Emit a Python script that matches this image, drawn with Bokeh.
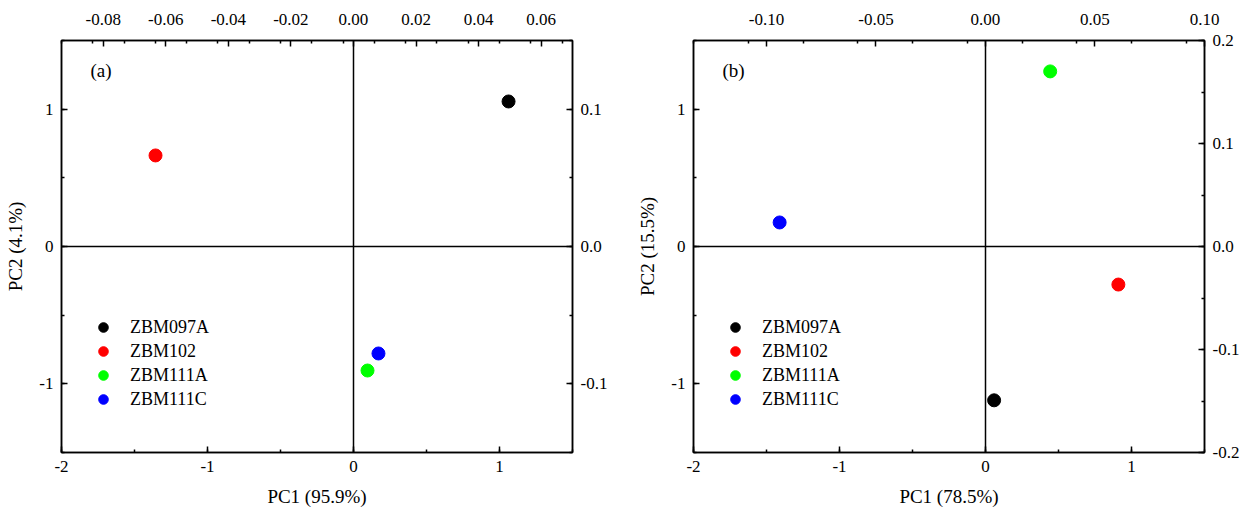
from bokeh.plotting import figure
from bokeh.layouts import row
from bokeh.models import (Range1d, LinearAxis, FixedTicker, PrintfTickFormatter,
                          Span, Label, Legend, LegendItem, ColumnDataSource)
from bokeh.embed import file_html
from bokeh.resources import INLINE

samples = ["ZBM097A", "ZBM102", "ZBM111A", "ZBM111C"]
colors = ["#000000", "#ff0000", "#00ff00", "#0000ff"]

# Panel (a)
a_pc1 = [1.062, -1.356, 0.096, 0.171]
a_pc2 = [1.056, 0.663, -0.903, -0.779]
# Panel (b)
b_pc1 = [0.059, 0.91, 0.443, -1.41]
b_pc2 = [-1.12, -0.277, 1.275, 0.175]

bottom_ticks = [-2, -1, 0, 1]
left_ticks = [-1, 0, 1]
a_top_ticks = [-0.08, -0.06, -0.04, -0.02, 0.0, 0.02, 0.04, 0.06]
a_right_ticks = [-0.1, 0.0, 0.1]
b_top_ticks = [-0.10, -0.05, 0.0, 0.05, 0.10]
b_right_ticks = [-0.2, -0.1, 0.0, 0.1, 0.2]

FONT = "Liberation Serif"


def minor_list(lo, hi, step):
    out = []
    v = lo
    while v <= hi + 1e-9:
        out.append(round(v, 6))
        v += step
    return out


def style_axis(ax, ticks, minors, fmt):
    ax.ticker = FixedTicker(ticks=ticks, minor_ticks=minors)
    ax.formatter = PrintfTickFormatter(format=fmt)
    ax.major_tick_in = 6
    ax.major_tick_out = 0
    ax.minor_tick_in = 3
    ax.minor_tick_out = 0
    ax.major_tick_line_color = "black"
    ax.minor_tick_line_color = "black"
    ax.major_tick_line_width = 1.5
    ax.minor_tick_line_width = 1.5
    ax.axis_line_color = "black"
    ax.axis_line_width = 1.5
    ax.major_label_text_font = FONT
    ax.major_label_text_font_size = "17px"
    ax.major_label_text_color = "black"
    ax.axis_label_text_font = FONT
    ax.axis_label_text_font_size = "19px"
    ax.axis_label_text_font_style = "normal"
    ax.axis_label_text_color = "black"
    ax.major_label_standoff = 8


def make_panel(pc1, pc2, top_rng, top_ticks, top_minor_step, top_fmt,
               right_rng, right_ticks, right_minor_step, xlabel, ylabel, tag,
               bl, br):
    p = figure(output_backend="svg", toolbar_location=None,
               frame_width=511, frame_height=412,
               min_border_left=bl, min_border_right=br,
               min_border_top=40, min_border_bottom=62,
               x_range=Range1d(-2, 1.5), y_range=Range1d(-1.5, 1.5),
               x_axis_location=None, y_axis_location=None)
    p.grid.visible = False
    p.outline_line_color = "black"
    p.outline_line_width = 1.5
    p.background_fill_color = "white"
    p.border_fill_color = "white"

    p.extra_x_ranges = {"top": Range1d(*top_rng)}
    p.extra_y_ranges = {"right": Range1d(*right_rng)}

    bx = LinearAxis(axis_label=xlabel)
    style_axis(bx, bottom_ticks, minor_list(-2, 1.5, 0.5), "%d")
    bx.axis_label_standoff = 11
    p.add_layout(bx, "below")

    ly = LinearAxis(axis_label=ylabel)
    style_axis(ly, left_ticks, minor_list(-1.5, 1.5, 0.5), "%d")
    ly.axis_label_standoff = 10
    p.add_layout(ly, "left")

    tx = LinearAxis(x_range_name="top")
    style_axis(tx, top_ticks, minor_list(top_rng[0], top_rng[1], top_minor_step), top_fmt)
    tx.major_label_standoff = 16
    p.add_layout(tx, "above")

    ry = LinearAxis(y_range_name="right")
    style_axis(ry, right_ticks, minor_list(right_rng[0], right_rng[1], right_minor_step), "%.1f")
    p.add_layout(ry, "right")

    p.add_layout(Span(location=0, dimension="height", line_color="black", line_width=1.5))
    p.add_layout(Span(location=0, dimension="width", line_color="black", line_width=1.5))

    items = []
    for name, c, x, y in zip(samples, colors, pc1, pc2):
        src = ColumnDataSource(dict(x=[x], y=[y]))
        r = p.scatter("x", "y", source=src, size=13, color=c, line_color=c)
        items.append(LegendItem(label=name, renderers=[r]))

    leg = Legend(items=items, location=(27, 41), border_line_color=None,
                 background_fill_alpha=0, label_text_font=FONT,
                 label_text_font_size="18px", label_text_color="black",
                 label_standoff=12,
                 glyph_width=30, glyph_height=24, label_height=24, spacing=0,
                 padding=10, margin=0)
    p.add_layout(leg, "center")

    p.add_layout(Label(x=29, y=382, x_units="screen", y_units="screen", text=tag,
                       text_font=FONT, text_font_size="19px", text_baseline="middle",
                       text_color="black"))
    return p


pa = make_panel(a_pc1, a_pc2, (-0.09333, 0.07), a_top_ticks, 0.01, "%.2f",
                (-0.15, 0.15), a_right_ticks, 0.05, "PC1 (95.9%)", "PC2 (4.1%)", "(a)",
                61, 58)
pb = make_panel(b_pc1, b_pc2, (-0.133333, 0.1), b_top_ticks, 0.025, "%.2f",
                (-0.2, 0.2), b_right_ticks, 0.05, "PC1 (78.5%)", "PC2 (15.5%)", "(b)",
                63, 46)

layout = row(pa, pb, spacing=0)
open("out.html", "w").write(file_html(layout, INLINE))
